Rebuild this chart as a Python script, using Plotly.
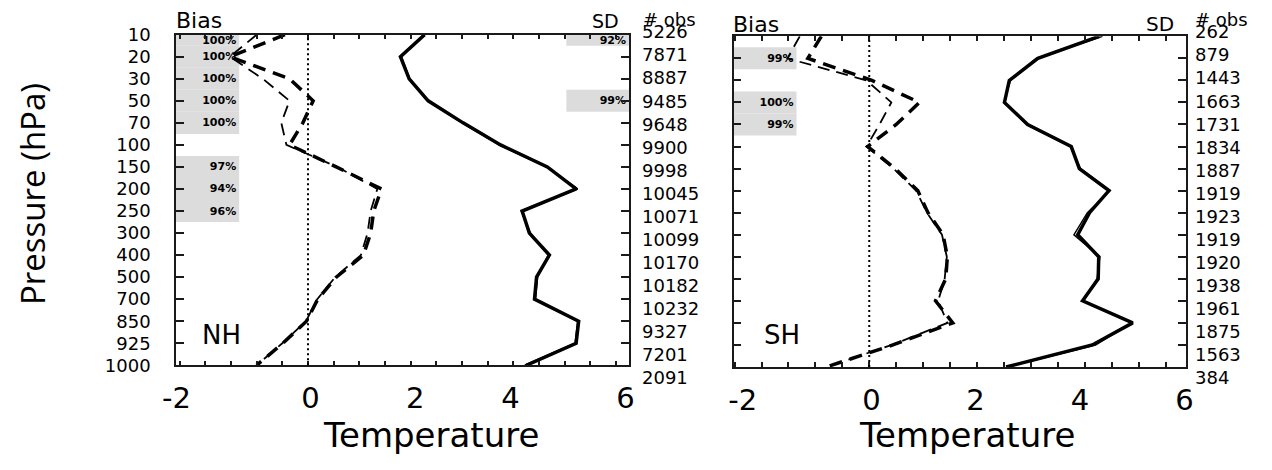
import plotly.graph_objects as go

# ---------------- data ----------------
levels = ["10", "20", "30", "50", "70", "100", "150", "200", "250",
          "300", "400", "500", "700", "850", "925", "1000"]
idx = list(range(len(levels)))

nh_bias_a = [-0.45, -1.52, -0.36, 0.10, -0.10, -0.36, 0.55, 1.43, 1.28,
             1.22, 1.08, 0.55, 0.19, -0.03, -0.49, -1.00]
nh_bias_b = [-1.00, -1.52, -0.88, -0.36, -0.52, -0.42, 0.57, 1.35, 1.22,
             1.16, 1.03, 0.53, 0.18, -0.04, -0.50, -1.00]
nh_sd_a = [2.27, 1.80, 1.97, 2.34, 3.02, 3.75, 4.66, 5.22, 4.17,
           4.31, 4.70, 4.45, 4.41, 5.27, 5.22, 4.25]
nh_sd_b = [2.25, 1.82, 1.98, 2.33, 3.00, 3.72, 4.64, 5.25, 4.15,
           4.33, 4.68, 4.47, 4.43, 5.25, 5.20, 4.22]

sh_bias_a = [-0.89, -1.14, 0.05, 0.93, 0.50, -0.03, 0.48, 0.90, 1.09,
             1.37, 1.45, 1.42, 1.23, 1.55, 0.44, -0.80]
sh_bias_b = [-1.29, -1.52, -0.05, 0.41, 0.19, -0.05, 0.45, 0.87, 1.07,
             1.35, 1.44, 1.40, 1.28, 1.45, 0.42, -0.80]
sh_sd_a = [4.27, 3.13, 2.60, 2.51, 2.94, 3.75, 3.90, 4.45, 4.09,
           3.87, 4.26, 4.25, 3.96, 4.89, 4.14, 2.54]
sh_sd_b = [4.33, 3.10, 2.62, 2.50, 2.92, 3.73, 3.92, 4.47, 4.05,
           3.80, 4.28, 4.23, 3.98, 4.87, 4.20, 2.56]

nh_obs = [5226, 7871, 8887, 9485, 9648, 9900, 9998, 10045, 10071,
          10099, 10170, 10182, 10232, 9327, 7201, 2091]
sh_obs = [262, 879, 1443, 1663, 1731, 1834, 1887, 1919, 1923,
          1919, 1920, 1938, 1961, 1875, 1563, 384]

nh_bias_sig_levels = ["10", "20", "30", "50", "70", "150", "200", "250"]
nh_bias_sig = ["100%", "100%", "100%", "100%", "100%", "97%", "94%", "96%"]
nh_sd_sig_levels = ["10", "50"]
nh_sd_sig = ["92%", "99%"]
sh_bias_sig_levels = ["20", "50", "70"]
sh_bias_sig = ["99%", "100%", "99%"]

x_tick_labels = ["-2", "0", "2", "4", "6"]

# ---------------- layout constants ----------------
W, H = 1272, 470          # window size
OFF = 8                   # page body margin around the plot div
FW, FH = W - OFF, H - OFF  # figure size
NH_XRANGE = [-2.57, 6.25]
SH_XRANGE = [-2.52, 5.88]
NH_XTICKPOS = [-2.56, 0.05, 2.09, 3.94, 6.18]
SH_XTICKPOS = [-2.35, 0.04, 1.97, 3.91, 5.85]
NH_BIAS_BOX_END = -1.34
SH_BIAS_BOX_END = -1.35
NH_SD_BOX_START = 5.03
YMAX = len(levels) - 1

FONT = "DejaVu Sans"
INK = "#1a1a1a"
BOX = "#dcdcdc"


def px_x(p):
    return (p - OFF) / FW


def px_y(p):
    return 1 - (p - OFF) / FH


fig = go.Figure()


# shaded significance boxes (clipped to the visible level band)
def sig_bars(lvls, texts, base, end, xa, ya):
    ys = [levels.index(l) for l in lvls]
    lo = [max(y - 0.5, 0) for y in ys]
    hi = [min(y + 0.5, YMAX) for y in ys]
    fig.add_trace(go.Bar(
        orientation="h", y=ys, x=[end - base] * len(ys), base=base,
        width=[h - l for l, h in zip(lo, hi)],
        offset=[l - y for l, y in zip(lo, ys)],
        marker=dict(color=BOX, line=dict(width=0)),
        text=texts, textposition="inside", insidetextanchor="end", textangle=0,
        constraintext="none",
        textfont=dict(family=FONT, size=11, color="black", weight="bold"),
        hoverinfo="skip", showlegend=False, xaxis=xa, yaxis=ya))


sig_bars(nh_bias_sig_levels, nh_bias_sig, NH_XRANGE[0], NH_BIAS_BOX_END, "x", "y")
sig_bars(nh_sd_sig_levels, nh_sd_sig, NH_SD_BOX_START, NH_XRANGE[1], "x", "y")
sig_bars(sh_bias_sig_levels, sh_bias_sig, SH_XRANGE[0], SH_BIAS_BOX_END, "x2", "y2")

THICK_DASH = dict(color="black", width=3.5, dash="13px,8px")
THIN_DASH = dict(color="black", width=1.8, dash="12px,7px")
THICK_SOLID = dict(color="black", width=3.5)
THIN_SOLID = dict(color="black", width=1.5)

for xs, style, xa, ya in [
    (nh_bias_b, THIN_DASH, "x", "y"), (nh_bias_a, THICK_DASH, "x", "y"),
    (nh_sd_b, THIN_SOLID, "x", "y"), (nh_sd_a, THICK_SOLID, "x", "y"),
    (sh_bias_b, THIN_DASH, "x2", "y2"), (sh_bias_a, THICK_DASH, "x2", "y2"),
    (sh_sd_b, THIN_SOLID, "x2", "y2"), (sh_sd_a, THICK_SOLID, "x2", "y2"),
]:
    fig.add_trace(go.Scatter(x=xs, y=idx, mode="lines", line=style,
                             hoverinfo="skip", showlegend=False,
                             xaxis=xa, yaxis=ya))

# invisible carriers for the "# obs" axes
for xa, ya in [("x3", "y3"), ("x4", "y4")]:
    fig.add_trace(go.Scatter(x=[0] * len(idx), y=idx, mode="markers",
                             marker=dict(opacity=0), hoverinfo="skip",
                             showlegend=False, xaxis=xa, yaxis=ya))

# zero lines (dotted)
for xa, ya in [("x", "y"), ("x2", "y2")]:
    fig.add_shape(type="line", xref=xa, x0=0, x1=0,
                  yref=ya + " domain", y0=0, y1=1,
                  line=dict(color="black", width=2, dash="2px,3px"))


def xaxis(domain, rng, tickpos, anchor):
    return dict(domain=domain, range=rng, anchor=anchor, automargin=False,
                showgrid=False, zeroline=False, showline=True, linecolor=INK,
                linewidth=1.5, mirror="ticks",
                tickmode="array", tickvals=tickpos, ticktext=x_tick_labels,
                ticks="", ticklabelstandoff=6,
                tickfont=dict(family=FONT, size=29, color="black"),
                minor=dict(tickmode="linear", tick0=0, dtick=0.5,
                           ticks="inside", ticklen=5, tickcolor=INK,
                           tickwidth=1.5))


def yaxis(domain, anchor, labels):
    return dict(domain=domain, range=[YMAX, 0], anchor=anchor, automargin=False,
                showgrid=False, zeroline=False, showline=True, linecolor=INK,
                linewidth=1.5, mirror="ticks", tickmode="array",
                tickvals=idx, ticktext=levels, showticklabels=labels,
                ticks="inside", ticklen=8, tickcolor=INK, tickwidth=1.5,
                ticklabelstandoff=20,
                tickfont=dict(family=FONT, size=18, color="black"))


def obs_axis(top_px, bottom_px, pos_px, obs):
    step = (bottom_px - top_px) / (len(obs) - 1)
    return dict(domain=[px_y(bottom_px + step / 2), px_y(top_px - step / 2)],
                range=[len(obs) - 0.5, -0.5], anchor="free",
                position=px_x(pos_px), side="right", automargin=False,
                showgrid=False, zeroline=False, showline=False, ticks="",
                tickmode="array", tickvals=idx, ticktext=[str(v) for v in obs],
                tickfont=dict(family=FONT, size=18, color="black"))


hidden_x = dict(visible=False, domain=[0, 1], range=[-1, 1])

annotations = []


def label(text, x, y, size, xanchor="left", yanchor="middle", family=FONT,
          angle=0):
    annotations.append(dict(text=text, x=px_x(x), y=px_y(y), xref="paper",
                            yref="paper", xanchor=xanchor, yanchor=yanchor,
                            showarrow=False, textangle=angle,
                            font=dict(family=family, size=size, color="black")))


label("Bias", 174, 21, 22)
label("Bias", 731, 24, 22)
label("SD", 605, OFF, 19, xanchor="center", yanchor="top")
label("SD", 1160, 24, 20, xanchor="center")
label("# obs", 641, OFF - 1, 18, yanchor="top")
label("# obs", 1193, OFF - 1, 18, yanchor="top")
label("NH", 221, 335, 26, xanchor="center")
label("SH", 782, 335, 26, xanchor="center")
label("Temperature", 431, 435, 34, xanchor="center")
label("Temperature", 967, 435, 34, xanchor="center")
label("Pressure (hPa)", 32, 194, 33, xanchor="center", family="Open Sans",
      angle=-90)

fig.update_layout(
    template="none",
    width=FW, height=FH,
    margin=dict(l=0, r=0, t=0, b=0),
    paper_bgcolor="white", plot_bgcolor="rgba(0,0,0,0)",
    barmode="overlay", showlegend=False,
    xaxis=xaxis([px_x(176), px_x(629)], NH_XRANGE, NH_XTICKPOS, "y"),
    yaxis=yaxis([px_y(365.3), px_y(34.7)], "x", True),
    xaxis2=xaxis([px_x(733.5), px_x(1186)], SH_XRANGE, SH_XTICKPOS, "y2"),
    yaxis2=yaxis([px_y(367), px_y(36.3)], "x2", False),
    xaxis3=dict(hidden_x, anchor="y3"),
    yaxis3=obs_axis(32, 378, 641, nh_obs),
    xaxis4=dict(hidden_x, anchor="y4"),
    yaxis4=obs_axis(32, 378, 1194, sh_obs),
    annotations=annotations,
)

fig.write_html("out.html")
